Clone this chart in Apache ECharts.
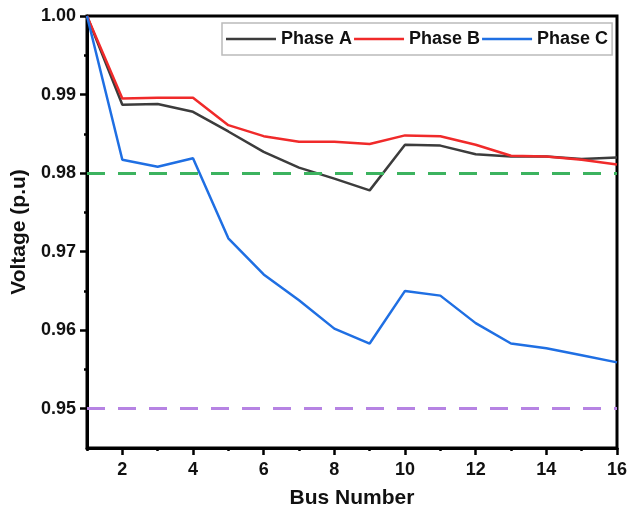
<!DOCTYPE html>
<html>
<head>
<meta charset="utf-8">
<script src="https://cdn.jsdelivr.net/npm/echarts@6/dist/echarts.min.js"></script>
<style>
  html, body { margin: 0; padding: 0; background: #fff; }
  #chart { width: 627px; height: 509px; }
</style>
</head>
<body>
<div id="chart"></div>
<script>
// bus numbers 1..16
const buses = [1, 2, 3, 4, 5, 6, 7, 8, 9, 10, 11, 12, 13, 14, 15, 16]
const phaseA = [1.0000, 0.9887, 0.9888, 0.9878, 0.9853, 0.9827, 0.9807, 0.9793, 0.9778, 0.9836, 0.9835, 0.9824, 0.9821, 0.9821, 0.9818, 0.9820]
const phaseB = [1.0000, 0.9895, 0.9896, 0.9896, 0.9861, 0.9847, 0.9840, 0.9840, 0.9837, 0.9848, 0.9847, 0.9836, 0.9822, 0.9821, 0.9817, 0.9811]
const phaseC = [1.0000, 0.9817, 0.9808, 0.9819, 0.9717, 0.9671, 0.9638, 0.9602, 0.9583, 0.9650, 0.9644, 0.9609, 0.9583, 0.9577, 0.9568, 0.9559]
const xMajorTicks = [2, 4, 6, 8, 10, 12, 14, 16]
const xMinorTicks = [1, 3, 5, 7, 9, 11, 13, 15]
const yMajorTicks = [0.95, 0.96, 0.97, 0.98, 0.99, 1.00]
const yMinorTicks = [0.955, 0.965, 0.975, 0.985, 0.995]
const limitHigh = 0.98
const limitLow = 0.95

const font = 'Arial, "Liberation Sans", sans-serif'

function pairs (ys) {
  return buses.map((b, i) => [b, ys[i]])
}

function limitLine (value, color) {
  return {
    silent: true,
    symbol: 'none',
    label: { show: false },
    lineStyle: { color: color, type: [18, 13], width: 3 },
    data: [{ yAxis: value }]
  }
}

const chart = echarts.init(document.getElementById('chart'))

chart.setOption({
  animation: false,
  grid: {
    left: 87,
    right: 10,
    top: 16,
    bottom: 61,
    show: true,
    borderColor: '#000',
    borderWidth: 3,
    outerBoundsMode: 'none'
  },
  legend: {
    left: 222,
    top: 23,
    padding: [6, 4, 6, 4],
    itemGap: 2,
    itemWidth: 50,
    itemHeight: 2.5,
    icon: 'rect',
    borderColor: '#bbb',
    borderWidth: 1.5,
    textStyle: { fontFamily: font, fontWeight: 'bold', fontSize: 18, color: '#111', lineHeight: 20 },
    data: ['Phase A', 'Phase B', 'Phase C']
  },
  xAxis: [{
    type: 'value',
    min: 1,
    max: 16,
    name: 'Bus Number',
    nameLocation: 'middle',
    nameGap: 40,
    nameTextStyle: { fontFamily: font, fontWeight: 'bold', fontSize: 21, color: '#111' },
    axisLine: { show: true, lineStyle: { color: '#000', width: 3 } },
    axisTick: { show: true, inside: false, length: 7, customValues: xMajorTicks, lineStyle: { color: '#000', width: 2.5 } },
    axisLabel: { customValues: xMajorTicks, margin: 13, hideOverlap: false, fontFamily: font, fontWeight: 'bold', fontSize: 18, color: '#111' },
    splitLine: { show: false }
  }, {
    type: 'value',
    min: 1,
    max: 16,
    position: 'bottom',
    axisLine: { show: false },
    axisTick: { show: true, inside: false, length: 3, customValues: xMinorTicks, lineStyle: { color: '#000', width: 2.5 } },
    axisLabel: { show: false },
    splitLine: { show: false }
  }],
  yAxis: [{
    type: 'value',
    min: 0.945,
    max: 1.0,
    name: 'Voltage (p.u)',
    nameLocation: 'middle',
    nameGap: 51,
    nameTextStyle: { fontFamily: font, fontWeight: 'bold', fontSize: 21, color: '#111' },
    axisLine: { show: true, lineStyle: { color: '#000', width: 3 } },
    axisTick: { show: true, inside: false, length: 7, customValues: yMajorTicks, lineStyle: { color: '#000', width: 2.5 } },
    axisLabel: {
      customValues: yMajorTicks,
      margin: 11,
      hideOverlap: false,
      fontFamily: font,
      fontWeight: 'bold',
      fontSize: 18,
      color: '#111',
      formatter: v => v.toFixed(2)
    },
    splitLine: { show: false }
  }, {
    type: 'value',
    min: 0.945,
    max: 1.0,
    position: 'left',
    axisLine: { show: false },
    axisTick: { show: true, inside: false, length: 3, customValues: yMinorTicks, lineStyle: { color: '#000', width: 2.5 } },
    axisLabel: { show: false },
    splitLine: { show: false }
  }],
  series: [{
    name: 'Phase A',
    type: 'line',
    symbol: 'none',
    color: '#3c3c3c',
    lineStyle: { width: 2.5 },
    data: pairs(phaseA),
    markLine: limitLine(limitHigh, '#3cb35f')
  }, {
    name: 'Phase B',
    type: 'line',
    symbol: 'none',
    color: '#f02a2a',
    lineStyle: { width: 2.5 },
    data: pairs(phaseB),
    markLine: limitLine(limitLow, '#b683e3')
  }, {
    name: 'Phase C',
    type: 'line',
    symbol: 'none',
    color: '#1f6fe3',
    lineStyle: { width: 2.5 },
    data: pairs(phaseC)
  }]
})
</script>
</body>
</html>
